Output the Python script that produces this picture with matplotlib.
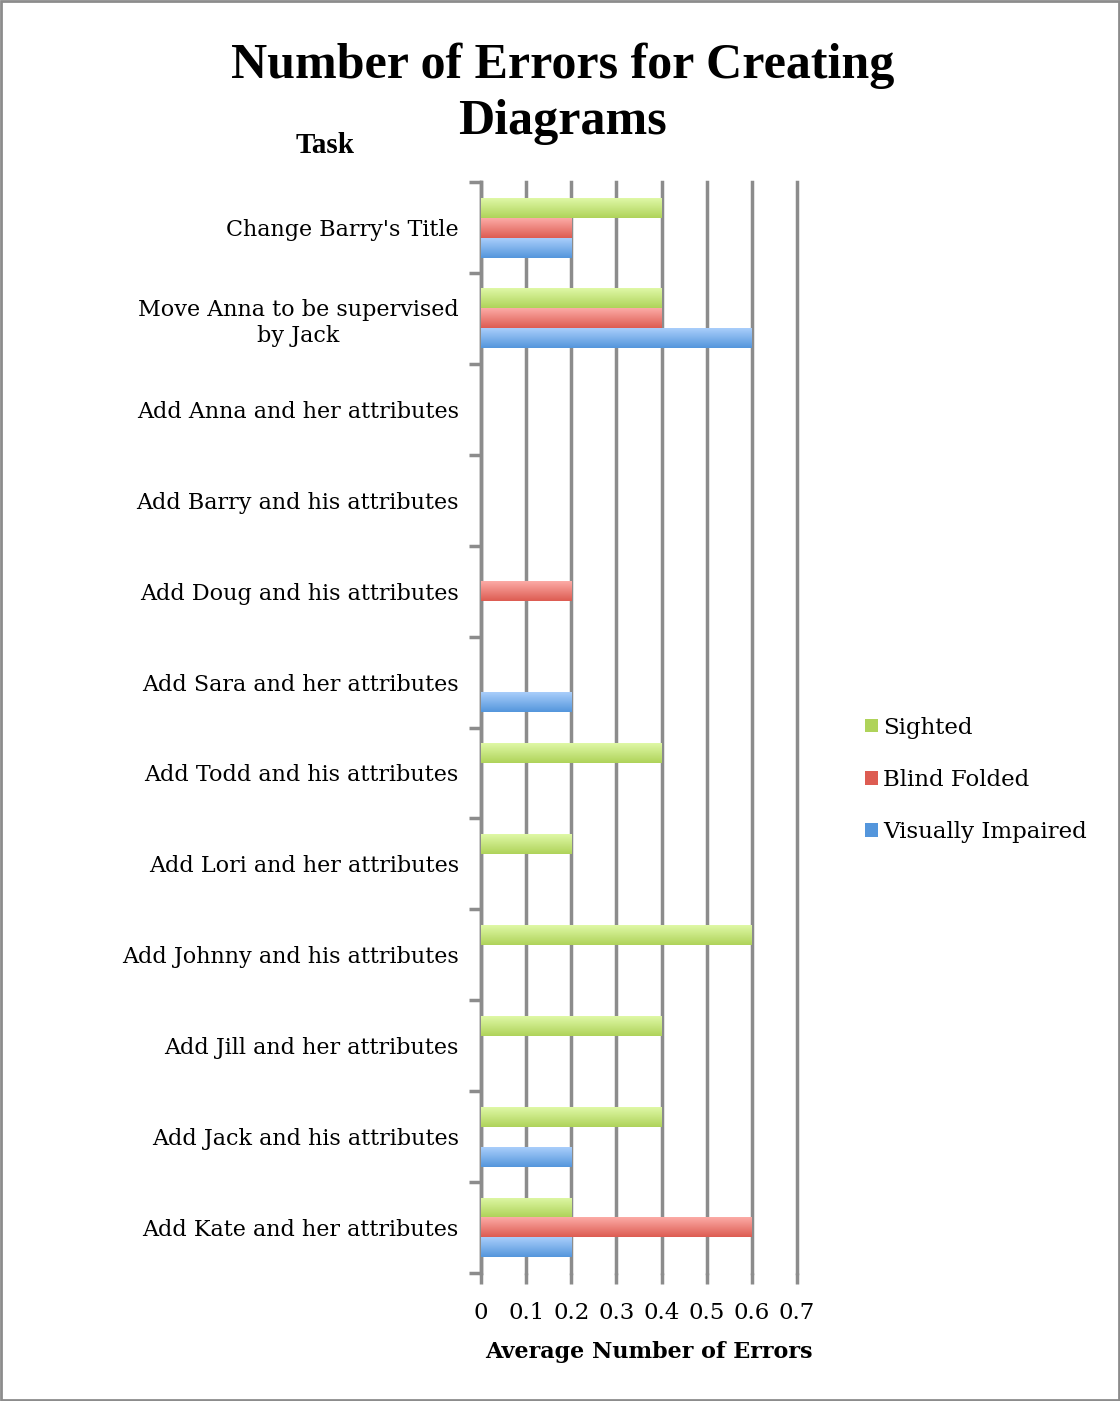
import numpy as np
import matplotlib.pyplot as plt
from matplotlib.patches import Rectangle
from matplotlib.colors import LinearSegmentedColormap

# Datos del gráfico (de arriba hacia abajo)
tareas = ["Change Barry's Title", "Move Anna to be supervised\nby Jack",
          "Add Anna and her attributes", "Add Barry and his attributes",
          "Add Doug and his attributes", "Add Sara and her attributes",
          "Add Todd and his attributes", "Add Lori and her attributes",
          "Add Johnny and his attributes", "Add Jill and her attributes",
          "Add Jack and his attributes", "Add Kate and her attributes"]
sighted = [0.4, 0.4, 0, 0, 0, 0, 0.4, 0.2, 0.6, 0.4, 0.4, 0.2]
blind_folded = [0.2, 0.4, 0, 0, 0.2, 0, 0, 0, 0, 0, 0, 0.6]
visually_impaired = [0.2, 0.6, 0, 0, 0, 0.2, 0, 0, 0, 0, 0.2, 0.2]
xticks = [0, 0.1, 0.2, 0.3, 0.4, 0.5, 0.6, 0.7]

series = [("Sighted", sighted, "#dff8a6", "#afd35a"),
          ("Blind Folded", blind_folded, "#fcaba6", "#dd5c52"),
          ("Visually Impaired", visually_impaired, "#a9cefb", "#5496dc")]

plt.rcParams['font.family'] = ['DejaVu Serif']
gris = '#8c8c8c'

fig = plt.figure(figsize=(11.2, 14.01), dpi=100)
ax = fig.add_axes([0.4295, 0.0914, 0.2821, 0.7786])

n = len(tareas)
y = np.arange(n)
h = 0.22
offsets = [-h, 0, h]  # eje invertido: verde arriba

grad = np.linspace(0, 1, 64).reshape(-1, 1)
for (nombre, vals, c_top, c_bot), off in zip(series, offsets):
    bars = ax.barh(y + off, vals, height=h, color=c_bot, label=nombre, zorder=3,
                   linewidth=0)
    cmap = LinearSegmentedColormap.from_list(nombre, [c_bot, c_top])
    for i, (b, v) in enumerate(zip(bars, vals)):
        if v <= 0:
            continue
        im = ax.imshow(grad, cmap=cmap, aspect='auto', zorder=4,
                       extent=[0, v, y[i] + off + h / 2, y[i] + off - h / 2],
                       origin='lower')
        im.set_clip_path(b)

ax.set_xlim(0, 0.7)
ax.set_ylim(n - 0.5, -0.5)
ax.set_xticks(xticks)
ax.set_xticklabels([f"{t:g}" for t in xticks], fontsize=16.5)
ax.set_yticks(y)
ax.set_yticklabels(tareas, fontsize=16, linespacing=1.25)
for lab in ax.get_yticklabels():
    lab.set_multialignment('center')
ax.tick_params(axis='y', length=0, pad=16)
ax.tick_params(axis='x', length=8, width=2.5, color=gris, pad=13)
ax.set_yticks(np.arange(n + 1) - 0.5, minor=True)
ax.tick_params(axis='y', which='minor', length=9, width=2.5, color=gris)
ax.grid(axis='x', color=gris, linewidth=2.5, zorder=0)
for gl in ax.get_xgridlines():
    gl.set_clip_on(False)
ax.set_axisbelow(True)
for s in ['top', 'right', 'bottom']:
    ax.spines[s].set_visible(False)
ax.spines['left'].set_color(gris)
ax.spines['left'].set_linewidth(2.5)

ax.set_xlabel("Average Number of Errors", fontsize=16, fontweight='bold')
ax.xaxis.set_label_coords(0.53, -0.062)
fig.text(0.29, 0.896, "Task", fontsize=21, fontweight='bold', ha='center',
         va='center', family='Liberation Serif')
fig.text(0.502, 0.953, "Number of Errors for Creating", fontsize=36,
         fontweight='bold', ha='center', va='center', family='Liberation Serif')
fig.text(0.502, 0.913, "Diagrams", fontsize=36,
         fontweight='bold', ha='center', va='center', family='Liberation Serif')

leg = ax.legend(loc='center left', bbox_to_anchor=(1.15, 0.452), frameon=False,
                fontsize=16.5, handlelength=0.55, handleheight=0.55,
                handletextpad=0.25, labelspacing=1.32)

fig.patches.append(Rectangle((0.001, 0.001), 0.998, 0.998, transform=fig.transFigure,
                             fill=False, edgecolor=gris, linewidth=2))

fig.savefig("out.png", dpi=100)
